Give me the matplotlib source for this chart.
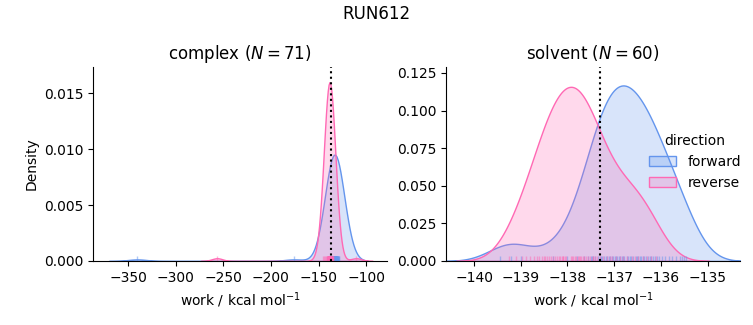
import numpy as np
import matplotlib
matplotlib.use("Agg")
import matplotlib.pyplot as plt
from matplotlib.patches import Patch

# ---------------- data ----------------
run_name = "RUN612"
phases = ["complex", "solvent"]
directions = ["forward", "reverse"]
colors = {"forward": "#6495ED", "reverse": "#FF69B4"}

complex_forward = [
    -340.2, -176.0,
    -138.4, -137.6, -137.1, -136.8, -136.5, -136.2, -136.0, -135.8, -135.6, -135.4,
    -135.3, -135.1, -135.0, -134.9, -134.7, -134.6, -134.5, -134.3, -134.2, -134.1,
    -134.0, -133.9, -133.8, -133.7, -133.6, -133.5, -133.4, -133.3, -133.2, -133.1,
    -133.0, -132.9, -132.8, -132.7, -132.6, -132.5, -132.4, -132.3, -132.2, -132.1,
    -132.0, -131.9, -131.8, -131.6, -131.5, -131.3, -131.2, -131.0, -130.8, -130.6,
    -130.4, -130.2, -130.0, -129.7, -129.4, -129.1, -128.7, -128.3, -133.45, -133.65,
    -134.45, -132.75, -133.15, -132.35, -134.85, -131.75, -133.95, -132.55, -133.35,
]
complex_reverse = [
    -256.5, -110.5,
    -145.3, -143.9, -142.8, -142.1, -141.6, -141.2, -140.9, -140.6, -140.3, -140.1,
    -139.9, -139.7, -139.5, -139.4, -139.3, -139.2, -139.1, -139.0, -138.9, -138.8,
    -138.7, -138.6, -138.5, -138.45, -138.4, -138.35, -138.3, -138.25, -138.2, -138.1,
    -138.0, -137.9, -137.8, -137.7, -137.6, -137.5, -137.4, -137.3, -137.2, -137.1,
    -137.0, -136.9, -136.7, -136.5, -136.3, -136.1, -135.9, -135.6, -135.3, -134.9,
    -134.4, -138.55, -138.65, -138.15, -138.05, -139.05, -137.95, -138.75, -137.85, -139.15,
    -138.95, -137.65, -138.85, -137.45, -139.35, -137.25, -139.6, -136.8, -140.4,
]
solvent_forward = [
    -139.45, -139.2, -139.0,
    -138.3, -138.0, -137.8, -137.65, -137.55, -137.47, -137.4,
    -137.35, -137.31, -137.28, -137.25, -137.21, -137.18, -137.15, -137.12, -137.08, -137.05,
    -137.02, -136.99, -136.96, -136.93, -136.9, -136.87, -136.84, -136.81, -136.78, -136.7,
    -136.72, -137.5, -136.66, -137.45, -136.6, -136.64, -136.54, -136.51, -136.48, -136.45,
    -136.42, -136.38, -136.35, -136.31, -136.28, -136.24, -136.2, -136.16, -136.12, -136.08,
    -136.03, -135.97, -135.9, -135.83, -135.75, -135.67, -135.58, -135.5, -135.55, -135.45,
]
solvent_reverse = [
    -139.25, -139.1,
    -137.45, -138.5, -138.03, -138.06, -138.09, -138.12, -138.16, -138.19, -138.23, -138.26,
    -138.3, -138.35, -138.39, -138.44, -138.48, -138.54, -138.6, -138.66, -138.72, -138.8,
    -138.88, -138.98,
    -137.93, -137.9, -137.87, -137.84, -137.81, -137.78, -137.74, -137.71, -137.67, -137.64,
    -137.6, -137.55, -137.51, -137.46, -137.42, -137.36, -137.3, -137.24, -137.16, -137.08,
    -137.05, -136.95, -136.88, -136.8, -136.72, -136.62, -136.55, -136.48, -136.38, -136.3,
    -136.2, -136.1, -138.1, -137.75,
]
counts = {"complex": 71, "solvent": 60}
free_energy = {"complex": -136.8, "solvent": -137.3}
density_weight = 0.25
bw_adjust = {"complex": 0.93, "solvent": 1.1}
xlims = {"complex": (-386.8, -78.0), "solvent": (-140.6, -134.3)}
ylim_top = {"complex": 0.01735, "solvent": 0.129}

samples = {
    ("complex", "forward"): complex_forward,
    ("complex", "reverse"): complex_reverse,
    ("solvent", "forward"): solvent_forward,
    ("solvent", "reverse"): solvent_reverse,
}


def kde_curve(values, weight, adjust=1.0, cut=3, gridsize=200):
    x = np.asarray(values, dtype=float)
    n = x.size
    bw = x.std(ddof=1) * n ** (-1 / 5) * adjust
    grid = np.linspace(x.min() - cut * bw, x.max() + cut * bw, gridsize)
    z = (grid[:, None] - x[None, :]) / bw
    dens = np.exp(-0.5 * z ** 2).sum(axis=1) / (n * bw * np.sqrt(2 * np.pi))
    return grid, dens * weight


fig, axes = plt.subplots(1, 2, figsize=(7.53, 3.25), dpi=100)
fig.subplots_adjust(left=0.1235, right=0.983, bottom=0.197, top=0.794, wspace=0.2)

for ax, phase in zip(axes, phases):
    for d in directions:
        vals = samples[(phase, d)]
        gx, gy = kde_curve(vals, density_weight, bw_adjust[phase])
        c = colors[d]
        ax.fill_between(gx, 0, gy, facecolor=matplotlib.colors.to_rgba(c, 0.25),
                        edgecolor=c, linewidth=1.0)
        ax.vlines(vals, 0, 0.025, transform=ax.get_xaxis_transform(),
                  colors=c, alpha=0.5, linewidth=1.0)
    ax.axvline(free_energy[phase], color="black", linestyle=":", linewidth=1.5)
    ax.set_xlim(*xlims[phase])
    ax.set_ylim(0, ylim_top[phase])
    ax.set_title(f"{phase} ($N={counts[phase]}$)", fontsize=12)
    ax.set_xlabel("work / kcal mol$^{-1}$")
    ax.spines["top"].set_visible(False)
    ax.spines["right"].set_visible(False)

axes[0].set_ylabel("Density")
axes[0].set_yticks([0, 0.005, 0.010, 0.015])
axes[0].set_yticklabels(["0.000", "0.005", "0.010", "0.015"])
axes[1].set_yticks([0, 0.025, 0.05, 0.075, 0.1, 0.125])
axes[1].set_yticklabels(["0.000", "0.025", "0.050", "0.075", "0.100", "0.125"])

handles = [Patch(facecolor=matplotlib.colors.to_rgba(colors[d], 0.25),
                 edgecolor=colors[d], linewidth=1.0, label=d) for d in directions]
axes[1].legend(handles=handles, title="direction", frameon=False,
               loc="center left", bbox_to_anchor=(0.646, 0.51))

fig.suptitle(run_name, fontsize=12, y=0.985)
fig.savefig("out.png", dpi=100)
